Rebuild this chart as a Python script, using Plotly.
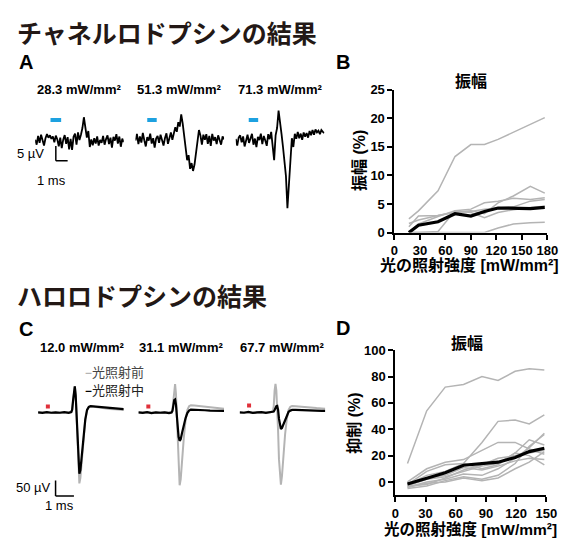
import numpy as np
import plotly.graph_objects as go

W, H = 570, 542

# ---------------- Data ----------------
# Panel A: channelrhodopsin evoked responses (µV), sampled every 0.125 ms
a_dt = 0.125
a_labels = ["28.3 mW/mm²", "51.3 mW/mm²", "71.3 mW/mm²"]
a_trace_1 = [0.5, -1.2, 1.8, -0.6, 2.2, 0.3, -1.5, 1.0,
             2.4, 1.2, 2.0, 0.8, 1.6, -0.4, 1.9, 0.6,
             -1.8, 1.2, -2.4, 0.5, 2.1, -0.9, 1.4, -2.8,
             0.8, -3.0, 1.5, 2.6, -1.2, 3.0, 0.4, 2.2,
             4.5, 8.2, 5.0, 1.2, 3.5, -2.0, 0.6, -1.4,
             1.0, -0.8, 1.6, -1.5, 0.4, -0.6, 1.8, -1.2,
             0.7, 2.0, -1.0, 1.2, -2.2, 1.5, 0.2, 2.4,
             -0.8, 1.6, -1.9, 0.9, -0.3]
a_trace_2 = [0.2, 2.5, -1.0, 1.6, -0.5, 2.8, 0.3, -1.8,
             1.4, 0.2, 2.6, -0.8, 1.0, -2.2, 0.9, 1.8,
             -0.6, 2.2, 0.4, -1.5, 1.1, 2.7, -0.9, 1.5,
             3.0, 0.5, 2.5, 4.8, 3.2, 6.5, 5.0, 9.2,
             6.0, 1.5, -3.5, -6.5, -4.8, -9.5, -7.5, -10.2,
             -8.0, -4.5, 0.5, 3.8, 2.0, -1.2, 2.2, 0.5,
             2.4, -0.9, 1.8, -1.6, 2.5, 0.2, 1.4, -1.0,
             2.0, 0.3, -1.2, 1.6, 0.6]
a_trace_3 = [0.8, -1.5, 1.2, 2.0, -0.4, 1.6, -1.8, 0.6,
             2.2, -0.6, 1.0, 2.5, -1.2, 0.9, -2.0, 1.5,
             0.4, 2.6, -1.0, 1.8, 0.2, -1.6, 2.4, 0.7,
             3.2, -1.0, -6.5, 2.0, 4.5, 10.5, 7.0, 2.5,
             -2.0, -6.0, -12.0, -23.0, -15.0, -5.0, 1.0, -2.0,
             2.5, 0.8, 3.2, 1.0, 2.6, 0.5, 3.0, 1.5,
             2.8, 1.2, 3.5, 2.0, 3.8, 2.2, 4.0, 3.0,
             3.6, 2.4, 3.8, 3.2, 2.8]
a_stim_on = [1.3, 1.0, 1.1]
a_stim_off = [2.2, 1.8, 1.9]
a_stim_level = 7.3

# Panel B: amplitude (%) vs light intensity
b_intensity = [17.0, 28.3, 51.3, 71.3, 90.0, 106.0, 122.0, 140.0, 160.0, 177.0]
b_cell_1 = [2.4, 3.8, 7.3, 13.3, 15.4, 15.4, 16.3, 17.5, 18.9, 20.1]
b_cell_2 = [1.0, 2.9, 3.0, 3.6, 3.8, 3.3, 5.2, 6.4, 8.1, 6.9]
b_cell_3 = [0.0, 1.5, 2.8, 3.8, 4.1, 5.2, 5.5, 6.0, 5.8, 6.1]
b_cell_4 = [0.0, 0.0, 0.0, 0.0, 0.0, 0.0, 0.8, 1.5, 1.7, 1.8]
b_cell_5 = [0.0, 0.0, 0.2, 3.8, 3.5, 2.6, 3.5, 4.0, 4.4, 4.6]
b_cell_6 = [1.6, 2.2, 3.0, 3.5, 3.7, 4.1, 4.3, 4.5, 5.5, 5.8]
b_mean = [0.0, 1.3, 1.9, 3.3, 2.9, 3.7, 4.3, 4.3, 4.2, 4.4]
b_ticks = [0, 30, 60, 90, 120, 150, 180]
b_yticks = [0, 5, 10, 15, 20, 25]

# Panel C: halorhodopsin, responses before / during light (µV)
c_labels = ["12.0 mW/mm²", "31.1 mW/mm²", "67.7 mW/mm²"]
c_time = [0, 0.25, 0.5, 0.75, 1.0, 1.25, 1.5, 1.75,
          1.9, 1.95, 2.0, 2.05, 2.1, 2.15, 2.2, 2.25,
          2.3, 2.36, 2.42, 2.5, 2.6, 2.7, 2.8, 2.9,
          3.0, 3.2, 3.5, 3.8, 4.1, 4.4, 4.7, 4.9]
c_before_1 = [0, 1, 0, -1, 0, 1, 0, 0,
              2, 10, 40, 78, 85, 58, -20, -105,
              -185, -228, -210, -150, -80, -25, 6, 17,
              20, 18, 15, 13, 11, 10, 9, 8]
c_during_1 = [0, -1.5, 1, -1, 0.5, -1, 1, -1.5,
              1, 9, 38, 76, 84, 55, -20, -95,
              -165, -197, -185, -135, -75, -22, 8, 18,
              20, 19, 17, 15, 14, 13, 12, 11]
c_before_2 = [0, 1, 0, -1, 0, 0, 1, 0,
              2, 10, 40, 80, 91, 60, -20, -110,
              -190, -234, -215, -150, -80, -25, 8, 20,
              23, 22, 20, 18, 16, 14, 13, 12]
c_during_2 = [0, -1.5, 1, -2, 0.5, -1, 0, -2,
              0, 5, 22, 40, 42, 25, -10, -45,
              -78, -91, -86, -65, -40, -18, -2, 6,
              9, 9, 8, 7, 6, 6, 5, 5]
c_before_3 = [0, 1, 0, -1, 1, 0, 0, 1,
              3, 20, 70, 92, 70, 20, -60, -150,
              -210, -232, -205, -140, -70, -20, 8, 18,
              21, 20, 18, 16, 15, 14, 13, 12]
c_during_3 = [0, -1, 1.5, -1.5, 0, 1, -1.5, 0,
              1, 3, 8, 15, 20, 21, 8, -20,
              -42, -53, -50, -38, -22, -8, 2, 6,
              8, 8, 7, 7, 6, 5, 5, 5]
c_marker_time = [0.56, 0.57, 0.54]
c_marker_value = [19, 19, 22]
c_legend = ["光照射前", "光照射中"]

# Panel D: suppression (%) vs light intensity
d_intensity = [12.0, 31.1, 49.5, 67.7, 86.0, 102.0, 119.0, 133.0, 148.0]
d_cell_1 = [14, 54, 72, 74, 80, 77, 84, 86, 85]
d_cell_2 = [-2, 5, 8, 14, 30, 46, 47, 44, 51]
d_cell_3 = [-3, 2, 4, 8, 12, 14, 22, 32, 28]
d_cell_4 = [-4, 0, 2, 6, 5, 10, 18, 26, 37]
d_cell_5 = [0, 10, 15, 17, 24, 30, 30, 25, 21]
d_cell_6 = [-2, 8, 13, 14, 10, 13, 22, 20, 13]
d_cell_7 = [-5, -3, 1, 4, 2, 5, 14, 27, 36]
d_cell_8 = [-1, 3, 5, 11, 9, 12, 16, 18, 17]
d_cell_9 = [-3, -2, 3, 9, 13, 18, 20, 22, 24]
d_cell_10 = [-4, -1, 0, 3, 1, 3, 10, 15, 23]
d_mean = [-1.5, 3.0, 7.0, 12.7, 14.0, 15.0, 18.6, 23.0, 25.6]
d_ticks = [0, 30, 60, 90, 120, 150]
d_yticks = [0, 20, 40, 60, 80, 100]

# ---------------- Styling ----------------
GRAY = "#b4b4b4"
BLACK = "#000000"
BLUE = "#1da1e0"
RED = "#e0303a"
TXT = "#231815"
LAT = "Liberation Sans, Arial, Noto Sans CJK JP, sans-serif"
JP = "Noto Sans CJK JP, sans-serif"


def dx(l, r):
    return [l / W, r / W]


def dy(top, bottom):
    return [1 - bottom / H, 1 - top / H]


def px(x):
    return x / W


def py(y):
    return 1 - y / H


fig = go.Figure()
layout_axes = {}

# ---- Panel A ----
a_traces = [a_trace_1, a_trace_2, a_trace_3]
a_xdom = [(32, 123), (135, 226), (238, 329)]
for i, tr in enumerate(a_traces):
    n = i + 1
    t = np.arange(len(tr)) * a_dt
    fig.add_trace(go.Scatter(x=t, y=tr, mode="lines", line=dict(color=BLACK, width=1.8),
                             xaxis=f"x{n}", yaxis=f"y{n}", hoverinfo="skip"))
    fig.add_trace(go.Scatter(x=[a_stim_on[i], a_stim_off[i]], y=[a_stim_level, a_stim_level],
                             mode="lines", line=dict(color=BLUE, width=4),
                             xaxis=f"x{n}", yaxis=f"y{n}", hoverinfo="skip"))
    layout_axes[f"xaxis{n}"] = dict(domain=dx(*a_xdom[i]), range=[0, 7.5], visible=False,
                                    anchor=f"y{n}")
    layout_axes[f"yaxis{n}"] = dict(domain=dy(98, 218), range=[-26.67, 13.33], visible=False,
                                    anchor=f"x{n}")

# ---- Panel C ----
c_before = [c_before_1, c_before_2, c_before_3]
c_during = [c_during_1, c_during_2, c_during_3]
c_xdom = [(35, 123), (138, 226), (242, 330)]
for i in range(3):
    n = i + 5
    fig.add_trace(go.Scatter(x=c_time, y=c_before[i], mode="lines", line=dict(color=GRAY, width=2),
                             xaxis=f"x{n}", yaxis=f"y{n}", hoverinfo="skip"))
    fig.add_trace(go.Scatter(x=c_time, y=c_during[i], mode="lines", line=dict(color=BLACK, width=2.2),
                             xaxis=f"x{n}", yaxis=f"y{n}", hoverinfo="skip"))
    fig.add_trace(go.Scatter(x=[c_marker_time[i]], y=[c_marker_value[i]], mode="markers",
                             marker=dict(color=RED, size=4, symbol="square"),
                             xaxis=f"x{n}", yaxis=f"y{n}", hoverinfo="skip"))
    layout_axes[f"xaxis{n}"] = dict(domain=dx(*c_xdom[i]), range=[0, 4.9], visible=False,
                                    anchor=f"y{n}")
    layout_axes[f"yaxis{n}"] = dict(domain=dy(380, 510), range=[-290.6, 115.6], visible=False,
                                    anchor=f"x{n}")

# ---- Panel B ----
for cell in [b_cell_1, b_cell_2, b_cell_3, b_cell_4, b_cell_5, b_cell_6]:
    fig.add_trace(go.Scatter(x=b_intensity, y=cell, mode="lines", line=dict(color=GRAY, width=1.5),
                             xaxis="x4", yaxis="y4", hoverinfo="skip"))
fig.add_trace(go.Scatter(x=b_intensity, y=b_mean, mode="lines", line=dict(color=BLACK, width=3.2),
                         xaxis="x4", yaxis="y4", hoverinfo="skip"))

# ---- Panel D ----
for cell in [d_cell_1, d_cell_2, d_cell_3, d_cell_4, d_cell_5, d_cell_6,
             d_cell_7, d_cell_8, d_cell_9, d_cell_10]:
    fig.add_trace(go.Scatter(x=d_intensity, y=cell, mode="lines", line=dict(color=GRAY, width=1.5),
                             xaxis="x8", yaxis="y8", hoverinfo="skip"))
fig.add_trace(go.Scatter(x=d_intensity, y=d_mean, mode="lines", line=dict(color=BLACK, width=3.2),
                         xaxis="x8", yaxis="y8", hoverinfo="skip"))

axis_style = dict(showline=True, linecolor=BLACK, linewidth=2, ticks="outside", ticklen=5,
                  tickwidth=2, tickcolor=BLACK, showgrid=False, zeroline=False,
                  tickfont=dict(family=LAT, size=13, color=BLACK, weight="bold"))

layout_axes["xaxis4"] = dict(domain=dx(401, 558), range=[0, 180], tickvals=b_ticks,
                             anchor="y4", **axis_style)
layout_axes["yaxis4"] = dict(domain=dy(85, 232), range=[0, 25], tickvals=b_yticks,
                             anchor="x4", **axis_style)
layout_axes["xaxis8"] = dict(domain=dx(402, 557), range=[0, 150], tickvals=d_ticks,
                             anchor="y8", **axis_style)
layout_axes["yaxis8"] = dict(domain=dy(353, 502), range=[-10, 100], tickvals=d_yticks,
                             anchor="x8", **axis_style)

# ---- Scale bars ----
shapes = [
    dict(type="line", xref="x1", yref="y1", x0=1.75, x1=1.75, y0=-1.67, y1=-6.67,
         line=dict(color=BLACK, width=1.5)),
    dict(type="line", xref="x1", yref="y1", x0=1.75, x1=2.75, y0=-6.67, y1=-6.67,
         line=dict(color=BLACK, width=1.5)),
    dict(type="line", xref="x5", yref="y5", x0=1.0, x1=1.0, y0=-218.75, y1=-268.75,
         line=dict(color=BLACK, width=1.5)),
    dict(type="line", xref="x5", yref="y5", x0=1.0, x1=2.05, y0=-268.75, y1=-268.75,
         line=dict(color=BLACK, width=1.5)),
]

ann = []


def text(x, y, s, size, family=LAT, bold=True, xanchor="center", color=TXT, angle=0):
    ann.append(dict(x=px(x), y=py(y), xref="paper", yref="paper", text=s, showarrow=False,
                    xanchor=xanchor, yanchor="middle", textangle=angle,
                    font=dict(family=family, size=size, color=color,
                              weight="bold" if bold else "normal")))


# Titles
text(11, 26, "チャネルロドプシンの結果", 25, family=JP, xanchor="left")
text(11, 296, "ハロロドプシンの結果", 25, family=JP, xanchor="left")
# Panel letters
text(13, 57, "A", 20, xanchor="left", color=BLACK)
text(339, 57, "B", 20, xanchor="left", color=BLACK)
text(13, 331, "C", 20, xanchor="left", color=BLACK)
text(339, 330, "D", 20, xanchor="left", color=BLACK)
# Intensity labels
for cx, s in zip([77, 180, 283], a_labels):
    text(cx, 85, s, 13, color=BLACK)
for cx, s in zip([80, 182, 285], c_labels):
    text(cx, 350, s, 13, color=BLACK)
# Scale bar labels
text(43, 151, "5 µV", 13, bold=False, xanchor="right", color=BLACK)
text(49, 178, "1 ms", 13, bold=False, color=BLACK)
text(50, 494, "50 µV", 13, bold=False, xanchor="right", color=BLACK)
text(57, 513, "1 ms", 13, bold=False, color=BLACK)
# Legend in C
text(81, 375, f"<b><span style='color:{GRAY}'>–</span></b>{c_legend[0]}", 13, family=JP, bold=False,
     xanchor="left", color="#444444")
text(81, 393, f"<b><span style='color:{BLACK}'>–</span></b>{c_legend[1]}", 13, family=JP, bold=False,
     xanchor="left", color="#222222")
# Panel B texts
text(480, 75, "振幅", 16, family=JP, color=BLACK)
text(365, 158, "振幅 (%)", 16, angle=-90, color=BLACK)
text(478, 265, "光の照射強度 [mW/mm²]", 16, color=BLACK)
# Panel D texts
text(475, 345, "振幅", 16, family=JP, color=BLACK)
text(360, 428, "抑制 (%)", 16, angle=-90, color=BLACK)
text(479, 537, "光の照射強度 [mW/mm²]", 15.5, color=BLACK)

fig.update_layout(
    width=W, height=H, autosize=False,
    margin=dict(l=0, r=0, t=0, b=0, pad=0),
    showlegend=False,
    plot_bgcolor="white", paper_bgcolor="white",
    shapes=shapes, annotations=ann,
    **layout_axes,
)

fig.write_html("out.html", config={"displayModeBar": False},
               post_script="document.body.style.margin='0px';document.body.style.overflow='hidden';")
